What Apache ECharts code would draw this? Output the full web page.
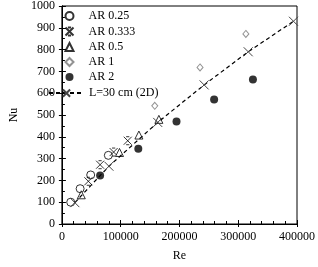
<!DOCTYPE html>
<html><head><meta charset="utf-8">
<script src="https://cdn.jsdelivr.net/npm/echarts@6/dist/echarts.min.js"></script>
<style>html,body{margin:0;padding:0;background:#fff}#c{width:318px;height:267px}</style>
</head><body><div id="c"></div>
<script>
const seriesNames = ['AR 0.25','AR 0.333','AR 0.5','AR 1','AR 2','L=30 cm (2D)'];
const ar025 = [[15000,100],[31000,162],[49000,225],[79000,315]];
const ar0333 = [[45000,196],[65000,272],[88000,330],[112000,382]];
const ar05 = [[33000,134],[98000,328],[131000,408],[165000,480]];
const ar1 = [[158000,542],[235000,718],[313000,872]];
const ar2 = [[65000,222],[130000,345],[195000,470],[259000,571],[325000,663]];
const l2d = [[22000,98],[80000,265],[163000,466],[242000,638],[317000,790],[394000,930]];
const xTicks = {min:0, max:400000, interval:100000};
const yTicks = {min:0, max:1000, interval:100};

const font = 'Liberation Serif';
const starPath = 'path://M0 0L10 10M10 0L0 10M3 0L7 0M3 10L7 10';
const xPath = 'path://M0 0L10 10M10 0L0 10';
const open = c => ({color:'#fff', borderColor:c, borderWidth:1});
const chart = echarts.init(document.getElementById('c'), null, {renderer:'canvas'});
const lbl = {fontFamily:font, fontSize:12, color:'#000'};
const plain = v => String(v);
chart.setOption({
  animation:false,
  textStyle:{fontFamily:font},
  grid:{left:46, right:21, top:6, bottom:40, show:true, borderColor:'#000', borderWidth:1, backgroundColor:'#fff'},
  legend:[
    {orient:'vertical', left:63, top:10, padding:0, itemWidth:8, itemHeight:8, itemGap:3,
      textStyle:{fontFamily:font, fontSize:12, color:'#000', padding:[0,0,0,10]}, data:seriesNames.slice(0,5)},
    {orient:'vertical', left:48, top:87, padding:0, itemWidth:35, itemHeight:9, itemGap:3,
      textStyle:{fontFamily:font, fontSize:12, color:'#000'}, data:seriesNames.slice(5)}
  ],
  xAxis:[{type:'value', min:xTicks.min, max:xTicks.max, interval:xTicks.interval, name:'Re', nameLocation:'middle', nameGap:26,
    nameTextStyle:lbl, axisLabel:Object.assign({margin:7, formatter:plain}, lbl), splitLine:{show:false},
    axisLine:{lineStyle:{color:'#000'}}, axisTick:{length:3, lineStyle:{color:'#000'}}},
    {type:'value', position:'bottom', min:xTicks.min, max:xTicks.max, interval:xTicks.interval, axisLabel:{show:false}, splitLine:{show:false},
    axisLine:{lineStyle:{color:'#000'}}, axisTick:{inside:true, length:4, lineStyle:{color:'#000'}},
    minorTick:{show:true, splitNumber:5, length:3, lineStyle:{color:'#000'}}}],
  yAxis:[{type:'value', min:yTicks.min, max:yTicks.max, interval:yTicks.interval, name:'Nu', nameLocation:'middle', nameGap:32,
    nameTextStyle:lbl, axisLabel:Object.assign({margin:7, formatter:plain}, lbl), splitLine:{show:false},
    axisLine:{lineStyle:{color:'#000'}}, axisTick:{length:3, lineStyle:{color:'#000'}}},
    {type:'value', position:'left', min:yTicks.min, max:yTicks.max, interval:yTicks.interval, axisLabel:{show:false}, splitLine:{show:false},
    axisLine:{lineStyle:{color:'#000'}}, axisTick:{inside:true, length:4, lineStyle:{color:'#000'}},
    minorTick:{show:true, splitNumber:2, length:3, lineStyle:{color:'#000'}}}],
  series:[
    {name:seriesNames[0], type:'scatter', data:ar025, symbol:'circle', symbolSize:8, itemStyle:open('#000')},
    {name:seriesNames[1], type:'scatter', data:ar0333, symbol:starPath, symbolSize:8, itemStyle:{color:'none', borderColor:'#000', borderWidth:1}},
    {name:seriesNames[2], type:'scatter', data:ar05, symbol:'triangle', symbolSize:8, itemStyle:open('#000')},
    {name:seriesNames[3], type:'scatter', data:ar1, symbol:'diamond', symbolSize:[6,7], itemStyle:open('#777')},
    {name:seriesNames[4], type:'scatter', data:ar2, symbol:'circle', symbolSize:8, itemStyle:{color:'#000'}},
    {name:seriesNames[5], type:'line', data:l2d, symbol:xPath, symbolSize:9, showSymbol:true,
      itemStyle:{color:'none', borderColor:'#444', borderWidth:1},
      lineStyle:{color:'#000', type:[4,3], width:1.2}}
  ]
});
</script></body></html>
